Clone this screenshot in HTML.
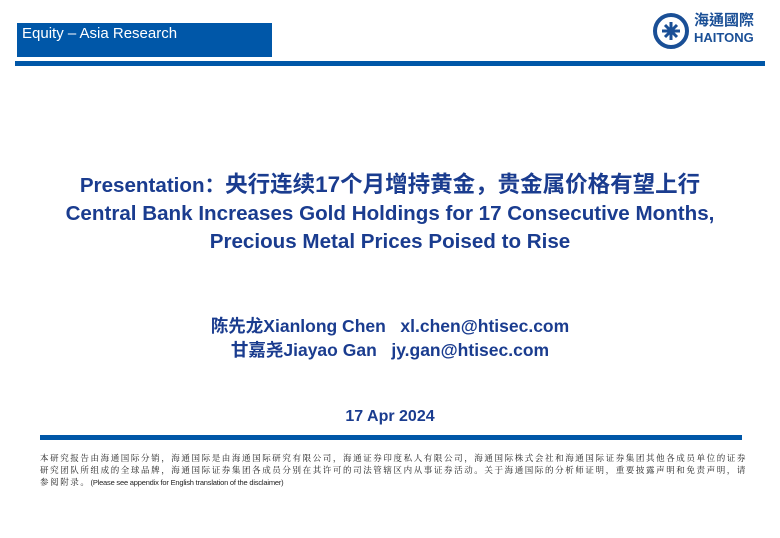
<!DOCTYPE html>
<html><head><meta charset="utf-8"><style>
body{margin:0;width:780px;height:538px;background:#fff;position:relative;overflow:hidden;font-family:"Liberation Sans","Noto Sans CJK SC",sans-serif}
.a{position:absolute}
.c{text-align:center;width:780px;left:0;color:#1a3c8f;font-weight:bold}
.f{height:12px;white-space:nowrap;letter-spacing:1.6px}
</style></head><body>
<div class="a" style="left:17px;top:23px;width:255px;height:34px;background:#0057a8"></div>
<div class="a" style="left:22px;top:25px;color:#fff;font-size:15px">Equity – Asia Research</div>
<div class="a" style="left:15px;top:61px;width:750px;height:5px;background:#0057a8"></div>
<svg class="a" style="left:652px;top:12px" width="40" height="38" viewBox="0 0 40 38"><circle cx="19" cy="19" r="16" fill="none" stroke="#1a4f96" stroke-width="4"/><path d="M10 19h18M19 10v18M13 13q6 6 12 12M25 13q-6 6-12 12" stroke="#1a4f96" stroke-width="3" fill="none"/></svg>
<div class="a" style="left:694px;top:11px;color:#1a4f96;font-size:15px;font-weight:bold;font-family:'Noto Sans CJK TC',sans-serif;line-height:17px">海通國際</div>
<div class="a" style="left:694px;top:30px;color:#1a4f96;font-size:13px;font-weight:bold">HAITONG</div>
<div class="a c" style="top:171px;font-size:20.6px;line-height:28px">Presentation：<span style="font-size:22.5px">央行连续17个月增持黄金，贵金属价格有望上行</span><br>Central Bank Increases Gold Holdings for 17 Consecutive Months,<br>Precious Metal Prices Poised to Rise</div>
<div class="a c" style="top:314px;font-size:17.5px;line-height:24px">陈先龙Xianlong Chen&nbsp;&nbsp;&nbsp;xl.chen@htisec.com<br>甘嘉尧Jiayao Gan&nbsp;&nbsp;&nbsp;jy.gan@htisec.com</div>
<div class="a c" style="top:408px;font-size:16px">17 Apr 2024</div>
<div class="a" style="left:40px;top:435px;width:702px;height:5px;background:#0057a8"></div>
<div class="a" style="left:40px;top:452px;width:710px;font-size:8.5px;line-height:12px;color:#222;font-family:'Noto Serif CJK SC','Liberation Sans',serif">
<div class="f">本研究报告由海通国际分销，海通国际是由海通国际研究有限公司，海通证券印度私人有限公司，海通国际株式会社和海通国际证券集团其他各成员单位的证券</div>
<div class="f">研究团队所组成的全球品牌，海通国际证券集团各成员分别在其许可的司法管辖区内从事证券活动。关于海通国际的分析师证明，重要披露声明和免责声明，请</div>
<div class="f">参阅附录。<span style="font-family:'Liberation Sans',sans-serif;font-size:7.5px;letter-spacing:-0.2px">(Please see appendix for English translation of the disclaimer)</span></div>
</div>
</body></html>
